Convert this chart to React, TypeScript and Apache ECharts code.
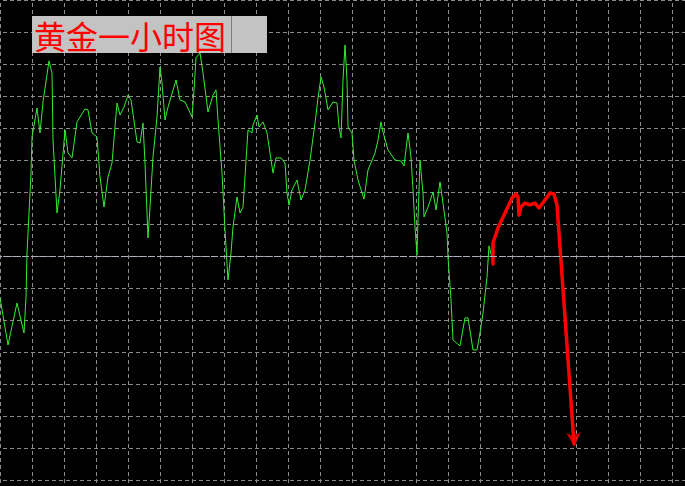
import React, { useEffect, useRef } from "react";
import * as echarts from "echarts";

// Hourly bar index (x) and gold price (y) of the green close line
const greenBars = [
  0, 2, 4.25, 6, 6.5, 6.75, 7.25, 7.75, 8, 9.25,
  10, 10.75, 12.25, 13, 13.25, 14.25, 15, 16.25, 17, 18,
  19.25, 21.25, 22, 23, 24.25, 25, 26, 27, 28, 29.25,
  30, 31, 32, 32.75, 34.25, 35, 35.75, 36.25, 37, 37.5,
  38.25, 39.25, 40, 40.5, 41.25, 42, 44, 45, 46.25, 48,
  48.5, 49, 50, 50.75, 52, 53.25, 54, 54.5, 55.5, 56.25,
  57, 57.75, 58.25, 59.25, 60, 60.75, 62, 63, 63.25, 64.25,
  64.75, 65.75, 66.75, 68.25, 69, 70.25, 71.25, 71.75, 72.25, 73,
  74.25, 75.25, 76.25, 77.5, 78.75, 79.5, 80.25, 81, 82, 83.25,
  84.25, 84.75, 85.25, 85.75, 86.25, 86.75, 87, 88, 88.5, 89.5,
  91, 92, 93.75, 94.5, 95.25, 95.75, 97, 98.75, 100.25, 101,
  102, 102.75, 103.25, 103.75, 104.25, 104.5, 105, 105.75, 106, 107,
  108.25, 109, 110, 110.75, 111.75, 112, 112.75, 113.25, 115, 116.25,
  117, 118.25, 119.25, 120, 120.75, 121.75, 122.25, 123.25,
];
const greenPrices = [
  1303.38, 1300.44, 1303.06, 1301.19, 1303.44, 1306.19, 1308.69, 1311.19, 1313.44, 1315.25,
  1313.69, 1315.63, 1318.19, 1317.44, 1313.25, 1308.69, 1310.13, 1313.88, 1312.44, 1312.13,
  1314.38, 1315.19, 1315.13, 1313.69, 1313.44, 1310.94, 1309.06, 1310.94, 1311.81, 1315.56,
  1314.81, 1315.31, 1316.06, 1315.75, 1313.13, 1313.06, 1314.31, 1311.81, 1307.13, 1309.06,
  1312.19, 1314.69, 1317.81, 1316.81, 1314.5, 1315.31, 1317, 1315.75, 1315.63, 1314.69,
  1316.38, 1318.38, 1318.69, 1317.44, 1315, 1316.06, 1316.38, 1314.5, 1311.19, 1307.63,
  1304.5, 1306.19, 1307.81, 1309.69, 1308.69, 1309.06, 1313.88, 1313.69, 1314.19, 1314.81,
  1314.06, 1314.38, 1313.69, 1311.19, 1312.13, 1312.13, 1311.81, 1309.94, 1309.19, 1310.13,
  1310.75, 1309.5, 1310.13, 1312, 1314.31, 1315.88, 1317.19, 1316.56, 1315.13, 1315.63,
  1315.56, 1314.06, 1313.38, 1317, 1319.19, 1317, 1314.06, 1313.69, 1312, 1310.75,
  1309.56, 1311.38, 1312.44, 1313.25, 1314.38, 1313.75, 1312.63, 1312, 1311.94, 1311.63,
  1313.69, 1312.19, 1310.13, 1307.81, 1306.06, 1308.25, 1312, 1309.94, 1308.44, 1309.06,
  1310, 1308.88, 1310.63, 1309.31, 1307.44, 1305.94, 1303.25, 1300.75, 1300.38, 1302.13,
  1302.13, 1300.13, 1300.13, 1301.19, 1302.44, 1304.69, 1306.63, 1305.63,
];

// Hand-drawn red forecast path
const redBars = [
  123.25, 123.25, 124.5, 126.25, 128, 129, 129.5, 129.75, 130.25, 131.25,
  132.5, 133.75, 134.75, 136.25, 137.5, 138.5, 139.25, 141.25, 143.5,
];
const redPrices = [
  1305.5, 1306.81, 1307.75, 1308.69, 1309.63, 1309.88, 1309.69, 1308.56, 1309.06, 1309.31,
  1309.19, 1309.31, 1309.0, 1309.5, 1309.94, 1309.88, 1309.19, 1302.19, 1294.25,
];
const arrowPoint = [143.62, 1294.1];

// Current price level line
const currentPrice = 1306;
const titleText = "黄金一小时图";

// The chart canvas overhangs the viewport by one grid cell on the left and top
const OVERHANG = 32;

export default function App() {
  const ref = useRef<HTMLDivElement>(null);
  useEffect(() => {
    if (!ref.current) return;
    const chart = echarts.init(ref.current, undefined, { renderer: "svg" });
    const splitStyle = { color: "#8c8c8c", type: [4, 3] as any, width: 1 };
    chart.setOption({
      animation: false,
      backgroundColor: "#000000",
      grid: { left: 0, top: 0, right: 0, bottom: 0 },
      xAxis: {
        type: "value",
        min: -8,
        max: 176,
        interval: 8,
        axisLine: { show: false },
        axisTick: { show: false },
        axisLabel: { show: false },
        splitLine: { show: true, lineStyle: splitStyle },
      },
      yAxis: {
        type: "value",
        min: 1290,
        max: 1324,
        interval: 2,
        axisLine: { show: false },
        axisTick: { show: false },
        axisLabel: { show: false },
        splitLine: { show: true, lineStyle: splitStyle },
      },
      series: [
        {
          type: "line",
          data: greenBars.map((b, i) => [b, greenPrices[i]]),
          symbol: "none",
          lineStyle: { color: "#33ee33", width: 1 },
          markLine: {
            silent: true,
            symbol: "none",
            label: { show: false },
            lineStyle: { color: "#aab3bd", type: [7, 2], width: 1 },
            data: [{ yAxis: currentPrice }],
          },
          z: 3,
        },
        {
          type: "line",
          data: redBars.map((b, i) => [b, redPrices[i]]),
          symbol: "none",
          lineStyle: { color: "#ff0000", width: 3.5, cap: "round", join: "round" },
          z: 4,
        },
        {
          type: "scatter",
          data: [arrowPoint],
          symbol: "arrow",
          symbolSize: [11, 14],
          symbolRotate: 184,
          itemStyle: { color: "#ff0000" },
          z: 5,
        },
      ],
      graphic: [
        {
          type: "rect",
          shape: { x: 32 + OVERHANG, y: 16 + OVERHANG, width: 235, height: 37 },
          style: { fill: "#c3c3c3" },
          z: 10,
        },
        {
          type: "line",
          shape: { x1: 231.5 + OVERHANG, y1: 16 + OVERHANG, x2: 231.5 + OVERHANG, y2: 53 + OVERHANG },
          style: { stroke: "#7d7d7d", lineWidth: 1 },
          z: 11,
        },
        {
          type: "text",
          x: 34 + OVERHANG,
          y: 35 + OVERHANG,
          style: {
            text: titleText,
            fill: "#ff0000",
            fontSize: 32,
            fontFamily: '"Noto Sans CJK SC"',
            verticalAlign: "middle",
          },
          z: 12,
        },
      ],
    });
    return () => chart.dispose();
  }, []);
  return (
    <div
      ref={ref}
      style={{
        position: "fixed",
        left: -OVERHANG,
        top: -OVERHANG,
        width: 736,
        height: 544,
      }}
    />
  );
}
